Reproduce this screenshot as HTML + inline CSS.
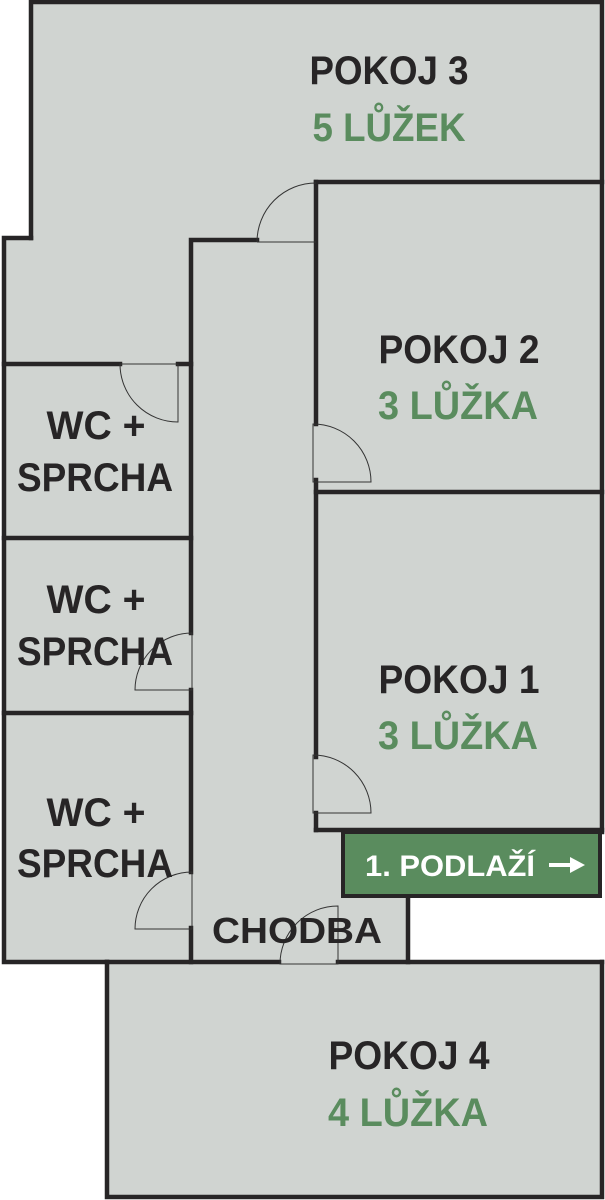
<!DOCTYPE html>
<html><head><meta charset="utf-8"><style>
html,body{margin:0;padding:0;background:#fff;}
svg{display:block;}
text{font-family:"Liberation Sans",sans-serif;font-weight:bold;}
</style></head><body>
<svg width="605" height="1200" viewBox="0 0 605 1200" xmlns="http://www.w3.org/2000/svg">
<g fill="#d0d4d1" stroke="none">
<rect x="31" y="2" width="571" height="240"/>
<rect x="2" y="238" width="190" height="724"/>
<rect x="189" y="180" width="413" height="652"/>
<rect x="189" y="820" width="221" height="142"/>
<rect x="107" y="960" width="495" height="238"/>
</g>
<g fill="none" stroke="#272526" stroke-width="4.5" stroke-linecap="square">
<polyline points="31,238 31,2 602,2 602,832"/>
<polyline points="31,238 4,238 4,962 107,962"/>
<polyline points="316,182 602,182"/>
<line x1="316" y1="182" x2="316" y2="424"/>
<line x1="316" y1="480" x2="316" y2="757"/>
<line x1="316" y1="813" x2="316" y2="830"/>
<line x1="316" y1="492" x2="602" y2="492"/>
<line x1="316" y1="830" x2="602" y2="830"/>
<polyline points="257,240 191,240 191,633"/>
<line x1="191" y1="690" x2="191" y2="872"/>
<line x1="191" y1="928" x2="191" y2="962"/>
<line x1="408" y1="897" x2="408" y2="962"/>
<line x1="4" y1="364" x2="120" y2="364"/>
<line x1="178" y1="364" x2="191" y2="364"/>
<line x1="4" y1="538" x2="191" y2="538"/>
<line x1="4" y1="713" x2="191" y2="713"/>
<line x1="107" y1="962" x2="279" y2="962"/>
<line x1="338" y1="962" x2="602" y2="962"/>
<polyline points="107,962 107,1197 602,1197 602,962"/>
</g>
<rect x="343" y="832" width="257" height="64" fill="#5a8c5e" stroke="#272526" stroke-width="4"/>
<g fill="none" stroke="#333" stroke-width="1">
<path d="M257,242 A59,59 0 0 1 316,183 M257,242 L316,242"/>
<path d="M120,364 A58,58 0 0 0 178,422 L178,364 Z"/>
<path d="M313,424 A58,58 0 0 1 371,482 L313,482 Z"/>
<path d="M313,755 A58,58 0 0 1 371,813 L313,813 Z"/>
<path d="M192,633 A57,57 0 0 0 135,690 L192,690 Z"/>
<path d="M192,872 A57,57 0 0 0 135,929 L192,929 Z"/>
<path d="M338,906 A58,58 0 0 0 280,964 L338,964 Z"/>
</g>
<g font-size="40" text-anchor="middle">
<text x="389" y="84" fill="#272526" textLength="159" lengthAdjust="spacingAndGlyphs">POKOJ 3</text>
<text x="389" y="141" fill="#5a8c5e" textLength="153" lengthAdjust="spacingAndGlyphs">5 LŮŽEK</text>
<text x="459" y="363" fill="#272526" textLength="161" lengthAdjust="spacingAndGlyphs">POKOJ 2</text>
<text x="458" y="419" fill="#5a8c5e" textLength="160" lengthAdjust="spacingAndGlyphs">3 LŮŽKA</text>
<text x="459" y="693" fill="#272526" textLength="161" lengthAdjust="spacingAndGlyphs">POKOJ 1</text>
<text x="458" y="749" fill="#5a8c5e" textLength="160" lengthAdjust="spacingAndGlyphs">3 LŮŽKA</text>
<text x="409" y="1069" fill="#272526" textLength="161" lengthAdjust="spacingAndGlyphs">POKOJ 4</text>
<text x="408" y="1126" fill="#5a8c5e" textLength="160" lengthAdjust="spacingAndGlyphs">4 LŮŽKA</text>
<text x="96" y="439" fill="#272526" textLength="99" lengthAdjust="spacingAndGlyphs">WC +</text>
<text x="95" y="491" fill="#272526" textLength="156" lengthAdjust="spacingAndGlyphs">SPRCHA</text>
<text x="96" y="613" fill="#272526" textLength="99" lengthAdjust="spacingAndGlyphs">WC +</text>
<text x="95" y="665" fill="#272526" textLength="156" lengthAdjust="spacingAndGlyphs">SPRCHA</text>
<text x="96" y="826" fill="#272526" textLength="99" lengthAdjust="spacingAndGlyphs">WC +</text>
<text x="95" y="877" fill="#272526" textLength="156" lengthAdjust="spacingAndGlyphs">SPRCHA</text>
<text x="297" y="943" font-size="36" fill="#272526" textLength="170" lengthAdjust="spacingAndGlyphs">CHODBA</text>
</g>
<text x="365" y="876" font-size="30" fill="#fff" textLength="170" lengthAdjust="spacingAndGlyphs">1. PODLAŽÍ</text>
<g stroke="#fff" stroke-width="4" fill="#fff">
<line x1="549" y1="865" x2="572" y2="865"/>
<polygon points="570,857 585,865 570,873" stroke="none"/>
</g>
</svg>
</body></html>
